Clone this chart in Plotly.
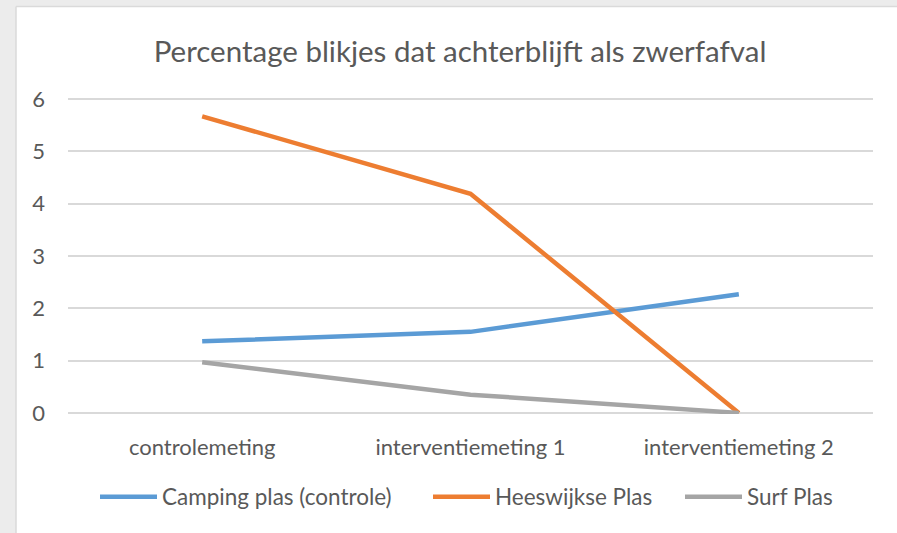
import plotly.graph_objects as go

categories = ["controlemeting", "interventiemeting 1", "interventiemeting 2"]
camping = [1.37, 1.55, 2.27]
heeswijkse = [5.67, 4.19, 0.0]
surf = [0.97, 0.35, 0.0]
series_names = ["Camping plas (controle)", "Heeswijkse Plas", "Surf Plas"]
colors = ["#5b9bd5", "#ed7d31", "#a5a5a5"]
y_ticks = [0, 1, 2, 3, 4, 5, 6]

W, H = 897, 533
L, R, T, B = 68, 24, 98, 119
pw, ph = W - L - R, H - T - B

def px_x(p):
    return (p - L) / pw

def px_y(p):
    return 1 - (p - T) / ph

FONT = "Lato"
TXT = "#595959"

legend_ids = ["legend", "legend2", "legend3"]
legend_x = [95, 428, 680]

fig = go.Figure()
for name, vals, col, lid in zip(series_names, [camping, heeswijkse, surf], colors, legend_ids):
    fig.add_trace(go.Scatter(x=categories, y=vals, mode="lines", name=name,
                             line=dict(color=col, width=4.5), legend=lid))

shapes = [
    dict(type="rect", xref="paper", yref="paper", x0=px_x(-5), x1=px_x(16),
         y0=px_y(H + 5), y1=px_y(-5), fillcolor="#ececec", line=dict(width=0), layer="below"),
    dict(type="rect", xref="paper", yref="paper", x0=px_x(-5), x1=px_x(W + 5),
         y0=px_y(7), y1=px_y(-5), fillcolor="#ececec", line=dict(width=0), layer="below"),
    dict(type="line", xref="paper", yref="paper", x0=px_x(16), x1=px_x(16),
         y0=px_y(H + 5), y1=px_y(6.5), line=dict(color="#dadada", width=1.5), layer="below"),
    dict(type="line", xref="paper", yref="paper", x0=px_x(16), x1=px_x(W + 5),
         y0=px_y(6.5), y1=px_y(6.5), line=dict(color="#dadada", width=1.5), layer="below"),
]

legend_common = dict(orientation="h", xanchor="left", yanchor="middle",
                     font=dict(size=22.5, color=TXT, family=FONT),
                     bgcolor="rgba(0,0,0,0)", itemwidth=57)

fig.update_layout(
    width=W, height=H,
    margin=dict(l=L, r=R, t=T, b=B, autoexpand=False),
    paper_bgcolor="white", plot_bgcolor="white",
    font=dict(family=FONT, color=TXT, size=22),
    title=dict(text="Percentage blikjes dat achterblijft als zwerfafval",
               x=460 / W, xanchor="center", y=1 - 52 / H, yanchor="middle",
               font=dict(family=FONT, size=29.5, color=TXT)),
    xaxis=dict(type="category", range=[-0.5, 2.5], showgrid=False, zeroline=False,
               showline=False, ticks="", tickfont=dict(size=22, color=TXT), ticklabelstandoff=18),
    yaxis=dict(range=[-0.02, 6.02], tickvals=y_ticks, showgrid=True, gridcolor="#d9d9d9",
               gridwidth=1.5, zeroline=False, showline=False, ticks="",
               tickfont=dict(size=22, color=TXT), ticklabelstandoff=22),
    legend=dict(x=px_x(legend_x[0]), y=px_y(497), **legend_common),
    legend2=dict(x=px_x(legend_x[1]), y=px_y(497), **legend_common),
    legend3=dict(x=px_x(legend_x[2]), y=px_y(497), **legend_common),
    shapes=shapes,
    showlegend=True,
)

fig.write_html("out.html", config={"displayModeBar": False},
               post_script="document.body.style.margin='0';document.body.style.background='#ececec';")
